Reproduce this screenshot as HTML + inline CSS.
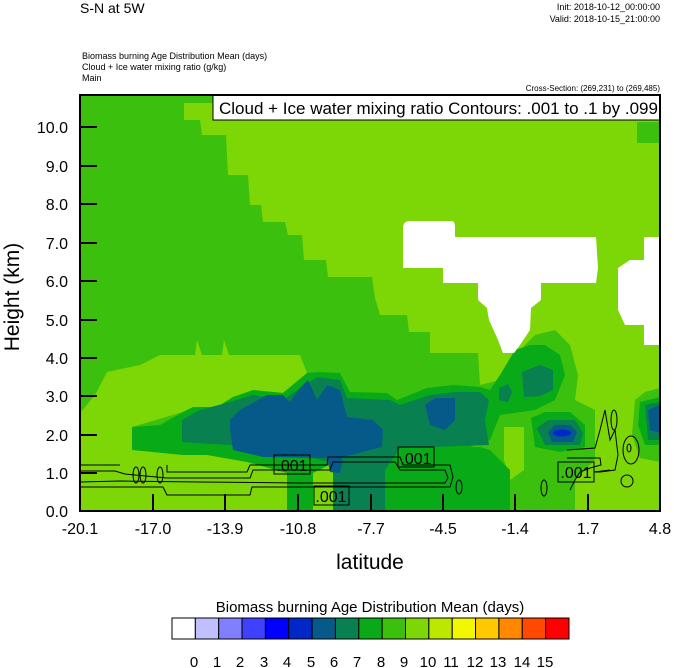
<!DOCTYPE html>
<html><head><meta charset="utf-8"><style>
body{margin:0;background:#fff;}
svg{display:block;font-family:"Liberation Sans",Arial,sans-serif;}
</style></head><body>
<svg width="674" height="668" viewBox="0 0 674 668" xmlns="http://www.w3.org/2000/svg">
<defs><clipPath id="pc"><rect x="80" y="95" width="580" height="416"/></clipPath></defs>
<text x="80" y="13" font-size="14">S-N at 5W</text>
<text x="660" y="10" font-size="9" text-anchor="end">Init: 2018-10-12_00:00:00</text>
<text x="660" y="22" font-size="9" text-anchor="end">Valid: 2018-10-15_21:00:00</text>
<text x="82" y="59" font-size="9">Biomass burning Age Distribution Mean    (days)</text>
<text x="82" y="70" font-size="9">Cloud + Ice water mixing ratio    (g/kg)</text>
<text x="82" y="81" font-size="9">Main</text>
<text x="660" y="91" font-size="8" text-anchor="end">Cross-Section: (269,231) to (269,485)</text>

<g clip-path="url(#pc)">
<rect x="80" y="95" width="580" height="416" fill="#7dd605"/>
<polygon fill="#3cc00e" points="80,95 215,95 215,103 184,103 184,120 200,120 202,135 226,135 228,175 248,175 250,205 261,205 263,222 285,222 288,235 302,235 304,260 326,260 328,277 372,277 375,298 380,315 407,315 409,332 430,332 430,353 478,353 480,385 500,380 515,355 535,335 555,330 570,345 578,375 575,400 595,410 595,460 575,480 575,511 510,511 505,470 460,460 400,445 300,440 250,430 200,440 140,450 80,413"/>
<polygon fill="#3cc00e" points="637,122 660,122 660,143 637,143"/>
<polygon fill="#3cc00e" points="635,400 645,392 660,388 660,462 640,458 632,435"/>
<polygon fill="#7dd605" points="80,413 95,395 107,372 140,365 160,355 195,355 197,340 202,355 222,355 224,340 229,355 300,355 307,373 283,393 253,390 217,407 183,412 132,427 132,450 183,455 207,455 247,462 287,473 287,511 80,511"/>
<polygon fill="#7dd605" points="430,330 480,330 480,353 430,353"/>
<polygon fill="#7dd605" points="504,427 524,427 524,470 510,480 504,460"/>
<polygon fill="#08aa18" points="132,427 160,425 183,412 193,407 217,407 233,397 253,390 283,393 307,373 317,372 340,373 350,392 387,393 397,400 427,388 453,385 480,387 490,390 500,375 515,350 530,345 545,345 560,355 565,375 555,400 535,410 500,415 490,440 470,447 400,447 385,463 333,463 313,473 287,473 247,462 207,455 183,455 132,450"/>
<polygon fill="#08aa18" points="385,463 400,447 480,447 490,450 510,470 510,511 385,511"/>
<polygon fill="#08aa18" points="287,473 313,473 313,511 287,511"/>
<polygon fill="#08aa18" points="531,418 545,412 570,412 585,425 585,447 560,452 535,447"/>
<polygon fill="#08aa18" points="640,402 660,397 660,445 645,445 638,425"/>
<polygon fill="#088050" points="182,420 200,410 230,402 253,395 283,400 305,385 317,377 340,380 347,398 390,400 400,405 430,395 455,392 480,392 489,400 485,420 489,445 400,448 385,470 385,511 333,511 333,463 300,455 250,450 230,445 182,442"/>
<polygon fill="#088050" points="499,388 508,384 512,392 508,402 499,400"/>
<polygon fill="#088050" points="522,372 540,365 553,370 553,390 540,396 524,397"/>
<polygon fill="#088050" points="537,428 548,420 575,420 583,433 580,445 545,445"/>
<polygon fill="#088050" points="645,405 660,402 660,440 648,440"/>
<polygon fill="#055a8a" points="230,430 230,420 240,410 267,395 283,395 290,402 300,388 308,380 317,400 327,385 340,390 347,417 373,420 383,430 382,447 343,457 340,473 330,472 327,458 263,457 233,450"/>
<polygon fill="#055a8a" points="425,405 435,398 455,398 455,420 445,430 430,425"/>
<polygon fill="#055a8a" points="548,432 555,425 570,425 577,432 573,442 552,442"/>
<polygon fill="#055a8a" points="648,410 660,405 660,433 650,430"/>
<ellipse cx="562" cy="433" rx="9" ry="3.5" fill="#0028c8"/>
<path fill="#fff" d="M403,228 Q403,221 410,221 L452,221 Q455,221 455,228 L455,237 L596,237 L598,268 L596,283 L541,283 L541,300 L531,308 L530,330 L520,345 L514,353 L503,353 L498,340 L489,320 L487,308 L478,300 L478,283 L443,283 L443,268 L403,268 Z"/>
<path fill="#fff" d="M644,237 L660,237 L660,345 L644,345 L644,325 L625,325 L618,310 L618,268 L630,260 L644,260 Z"/>
</g>
<g fill="none" stroke="#000" stroke-width="1" clip-path="url(#pc)">
<path d="M80,465 L120,465 M167,465 L167,472 L247,472 L250,465 L327,465 L328,457 L400,457 L403,465 L450,465 L453,477 L450,487 L393,487 L347,487 L252,487 L250,495 L167,495 L163,487 L80,487"/>
<path d="M80,471 L115,471 L125,474 L167,478 L250,478 L253,470 L330,470 L333,462 L395,462 L400,470 L445,470 L448,478 L445,483 L300,483 L200,482 L120,481 L80,482"/>
<ellipse cx="143" cy="475" rx="3" ry="8"/><ellipse cx="160" cy="475" rx="3" ry="8"/><ellipse cx="136" cy="475" rx="3" ry="8"/>
<ellipse cx="459" cy="487" rx="3" ry="7"/><ellipse cx="544" cy="488" rx="3" ry="8"/>
<ellipse cx="614" cy="420" rx="3" ry="10"/><ellipse cx="631" cy="450" rx="8" ry="14"/><ellipse cx="629" cy="448" rx="2" ry="4"/>
<ellipse cx="627" cy="481" rx="6" ry="6"/>
<path d="M567,450 L595,448 L600,430 L605,410 L610,440 L615,430 L618,455 L615,470 L600,472 L594,472 M567,458 L600,458 L601,465 L590,468 L580,472 L575,480 L570,490 M594,472 L610,470"/>
<rect x="274" y="455" width="36" height="19"/><rect x="398" y="447" width="36" height="20"/>
<rect x="314" y="486" width="35" height="19"/><rect x="558" y="462" width="36" height="20"/>
</g>
<g font-size="16" text-anchor="middle">
<text x="292" y="471">.001</text><text x="416" y="464">.001</text>
<text x="331" y="502">.001</text><text x="576" y="478">.001</text>
</g>
<rect x="213" y="95" width="447" height="25" fill="#fff" stroke="#000" stroke-width="1"/>
<text x="219" y="114" font-size="17">Cloud + Ice water mixing ratio Contours: .001 to .1 by .099</text>
<rect x="80" y="95" width="580" height="416" fill="none" stroke="#000" stroke-width="2"/>
<g stroke="#000" stroke-width="2">
<line x1="80" y1="473" x2="97" y2="473"/><line x1="80" y1="435" x2="97" y2="435"/><line x1="80" y1="396" x2="97" y2="396"/>
<line x1="80" y1="358" x2="97" y2="358"/><line x1="80" y1="320" x2="97" y2="320"/><line x1="80" y1="281" x2="97" y2="281"/>
<line x1="80" y1="243" x2="97" y2="243"/><line x1="80" y1="204" x2="97" y2="204"/><line x1="80" y1="166" x2="97" y2="166"/>
<line x1="80" y1="127" x2="97" y2="127"/>
<line x1="153" y1="511" x2="153" y2="494"/><line x1="225" y1="511" x2="225" y2="494"/><line x1="298" y1="511" x2="298" y2="494"/>
<line x1="371" y1="511" x2="371" y2="494"/><line x1="443" y1="511" x2="443" y2="494"/><line x1="515" y1="511" x2="515" y2="494"/>
<line x1="588" y1="511" x2="588" y2="494"/>
</g>
<g font-size="16" text-anchor="end">
<text x="68" y="517">0.0</text><text x="68" y="479">1.0</text><text x="68" y="441">2.0</text><text x="68" y="402">3.0</text>
<text x="68" y="364">4.0</text><text x="68" y="326">5.0</text><text x="68" y="287">6.0</text><text x="68" y="249">7.0</text>
<text x="68" y="210">8.0</text><text x="68" y="172">9.0</text><text x="68" y="133">10.0</text>
</g>
<g font-size="16" text-anchor="middle">
<text x="80" y="534">-20.1</text><text x="153" y="534">-17.0</text><text x="225" y="534">-13.9</text><text x="298" y="534">-10.8</text>
<text x="371" y="534">-7.7</text><text x="443" y="534">-4.5</text><text x="515" y="534">-1.4</text><text x="588" y="534">1.7</text><text x="660" y="534">4.8</text>
</g>
<text x="370" y="569" font-size="21" text-anchor="middle">latitude</text>
<text transform="translate(19,297) rotate(-90)" font-size="21" text-anchor="middle">Height (km)</text>
<text x="370" y="612" font-size="15" text-anchor="middle">Biomass burning Age Distribution Mean  (days)</text>
<g stroke="#000" stroke-width="1">
<rect x="172" y="618" width="23.35" height="21" fill="#ffffff"/>
<rect x="195.35" y="618" width="23.35" height="21" fill="#c0c0ff"/>
<rect x="218.7" y="618" width="23.35" height="21" fill="#8080ff"/>
<rect x="242.05" y="618" width="23.35" height="21" fill="#4040ff"/>
<rect x="265.4" y="618" width="23.35" height="21" fill="#0000ff"/>
<rect x="288.75" y="618" width="23.35" height="21" fill="#0028c8"/>
<rect x="312.1" y="618" width="23.35" height="21" fill="#055a8a"/>
<rect x="335.45" y="618" width="23.35" height="21" fill="#088050"/>
<rect x="358.8" y="618" width="23.35" height="21" fill="#08aa18"/>
<rect x="382.15" y="618" width="23.35" height="21" fill="#3cc00e"/>
<rect x="405.5" y="618" width="23.35" height="21" fill="#7dd605"/>
<rect x="428.85" y="618" width="23.35" height="21" fill="#bce800"/>
<rect x="452.2" y="618" width="23.35" height="21" fill="#f2f800"/>
<rect x="475.55" y="618" width="23.35" height="21" fill="#ffc800"/>
<rect x="498.9" y="618" width="23.35" height="21" fill="#ff8800"/>
<rect x="522.25" y="618" width="23.35" height="21" fill="#ff4800"/>
<rect x="545.6" y="618" width="23.4" height="21" fill="#ff0000"/>
</g>
<g font-size="15" text-anchor="middle">
<text x="194" y="667">0</text><text x="217" y="667">1</text><text x="240" y="667">2</text><text x="264" y="667">3</text>
<text x="287" y="667">4</text><text x="311" y="667">5</text><text x="334" y="667">6</text><text x="357" y="667">7</text>
<text x="381" y="667">8</text><text x="404" y="667">9</text><text x="428" y="667">10</text><text x="451" y="667">11</text>
<text x="475" y="667">12</text><text x="498" y="667">13</text><text x="522" y="667">14</text><text x="545" y="667">15</text>
</g>
</svg>
</body></html>
